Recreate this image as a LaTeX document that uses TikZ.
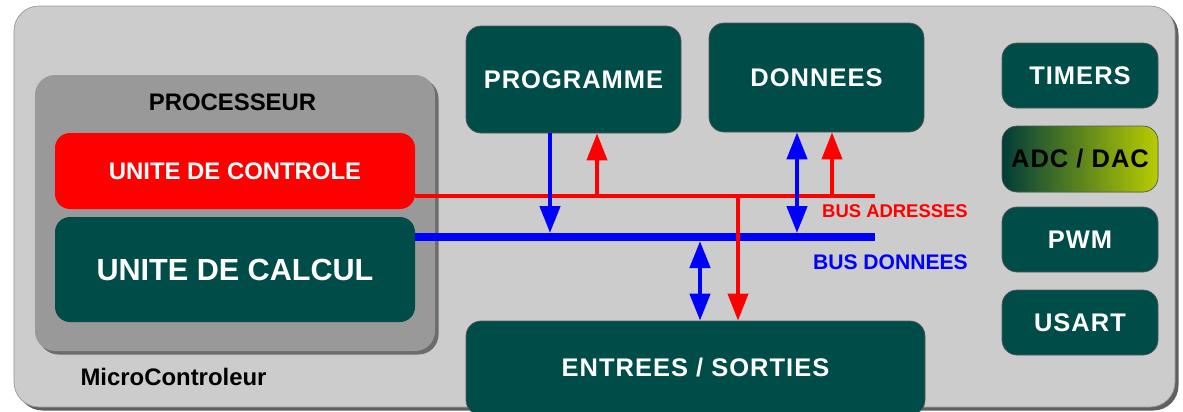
\documentclass[tikz,border=0pt]{standalone}
\usepackage{fontspec}
\setmainfont{Liberation Sans}
\usepackage{xcolor}
\usetikzlibrary{arrows.meta,positioning,shadows}
\definecolor{mcteal}{HTML}{004C48}
\definecolor{mclight}{HTML}{CCCCCC}
\definecolor{mcgray}{HTML}{999999}
\definecolor{adcgreen}{HTML}{B8CC00}
\tikzset{
  blk/.style={rectangle, rounded corners=0.3cm, draw=gray!70!black, thin, fill=mcteal, text=white, inner sep=0pt, font=\bfseries\fontsize{14.5}{17}\selectfont\addfontfeature{LetterSpace=4}},
  chip/.style={rectangle, rounded corners=0.5cm, draw=gray!80, fill=mclight, drop shadow={shadow xshift=0.07cm, shadow yshift=-0.07cm, fill=gray!75!black, opacity=1}},
  cpu/.style={rectangle, rounded corners=0.4cm, draw=none, fill=mcgray, drop shadow={shadow xshift=0.07cm, shadow yshift=-0.07cm, fill=gray!85!black, opacity=1}},
  abus/.style={red, line width=0.08cm},
  dbus/.style={blue, line width=0.16cm},
  adr/.style={-{Triangle[length=0.54cm, width=0.4cm]}, red, line width=0.08cm},
  dat/.style={-{Triangle[length=0.54cm, width=0.4cm]}, blue, line width=0.09cm},
  datd/.style={{Triangle[length=0.54cm, width=0.4cm]}-{Triangle[length=0.54cm, width=0.4cm]}, blue, line width=0.09cm},
  lbl/.style={font=\bfseries\fontsize{13.6}{16}\selectfont},
}

\begin{document}
\begin{tikzpicture}
\useasboundingbox (0,0) rectangle (23.66,-8.22);
\clip (0,0) rectangle (23.66,-8.22);

% boitier
\node[chip, minimum width=23.22cm, minimum height=8.02cm] (mc) at (11.89,-4.13) {};
\node[lbl] (mcname) at (3.47,-7.54) {MicroControleur};

% processeur
\node[cpu, minimum width=8.0cm, minimum height=5.52cm] (cpu) at (4.7,-4.26) {};
\node[lbl] (cpuname) at (4.65,-2.04) {PROCESSEUR};
\node[blk, fill=red, draw=none, minimum width=7.2cm, minimum height=1.52cm, font=\bfseries\fontsize{13.6}{16}\selectfont] (ctrl) at (4.7,-3.42) {UNITE DE CONTROLE};
\node[blk, draw=none, minimum width=7.2cm, minimum height=2.1cm, font=\bfseries\fontsize{17.4}{20}\selectfont] (calc) at (4.7,-5.39) {UNITE DE CALCUL};

% memoires et E/S
\node[blk, minimum width=4.3cm, minimum height=2.14cm] (prog) at (11.47,-1.59) {PROGRAMME};
\node[blk, minimum width=4.3cm, minimum height=2.18cm] (donn) at (16.33,-1.55) {DONNEES};
\node[blk, minimum width=9.18cm, minimum height=1.88cm] (io) at (13.91,-7.36) {ENTREES / SORTIES};

% peripheriques
\node[blk, minimum width=3.12cm, minimum height=1.3cm] (tim) at (21.6,-1.51) {TIMERS};
\node[blk, minimum width=3.12cm, minimum height=1.32cm, left color=mcteal!80!black, right color=adcgreen, text=black] (adc) at (21.6,-3.18) {ADC / DAC};
\node[blk, minimum width=3.12cm, minimum height=1.3cm] (pwm) at (21.6,-4.79) {PWM};
\node[blk, minimum width=3.12cm, minimum height=1.3cm] (usart) at (21.6,-6.45) {USART};

% bus
\coordinate (aEnd) at (17.5,-3.92);
\coordinate (dEnd) at (17.5,-4.74);
\draw[abus] (ctrl.east |- aEnd) -- (aEnd);
\draw[dbus] (calc.east |- dEnd) -- (dEnd);
\node[anchor=east, red, font=\bfseries\fontsize{10.5}{12}\selectfont] (abusname) at (19.48,-4.22) {BUS ADRESSES};
\node[anchor=east, blue, font=\bfseries\fontsize{12}{14}\selectfont] (dbusname) at (19.48,-5.24) {BUS DONNEES};

% liaisons
\coordinate (pd) at (11.0,-4.66);
\coordinate (pa) at (11.94,-3.92);
\coordinate (dd) at (15.94,-4.66);
\coordinate (da) at (16.64,-3.92);
\coordinate (ed) at (14.0,-4.82);
\coordinate (ea) at (14.76,-3.92);
\draw[dat] (prog.south -| pd) -- (pd);
\draw[adr] (pa) -- (prog.south -| pa);
\draw[datd] (dd) -- (donn.south -| dd);
\draw[adr] (da) -- (donn.south -| da);
\draw[adr] (ea) -- (io.north -| ea);
\draw[datd] (ed) -- (io.north -| ed);
\end{tikzpicture}
\end{document}
